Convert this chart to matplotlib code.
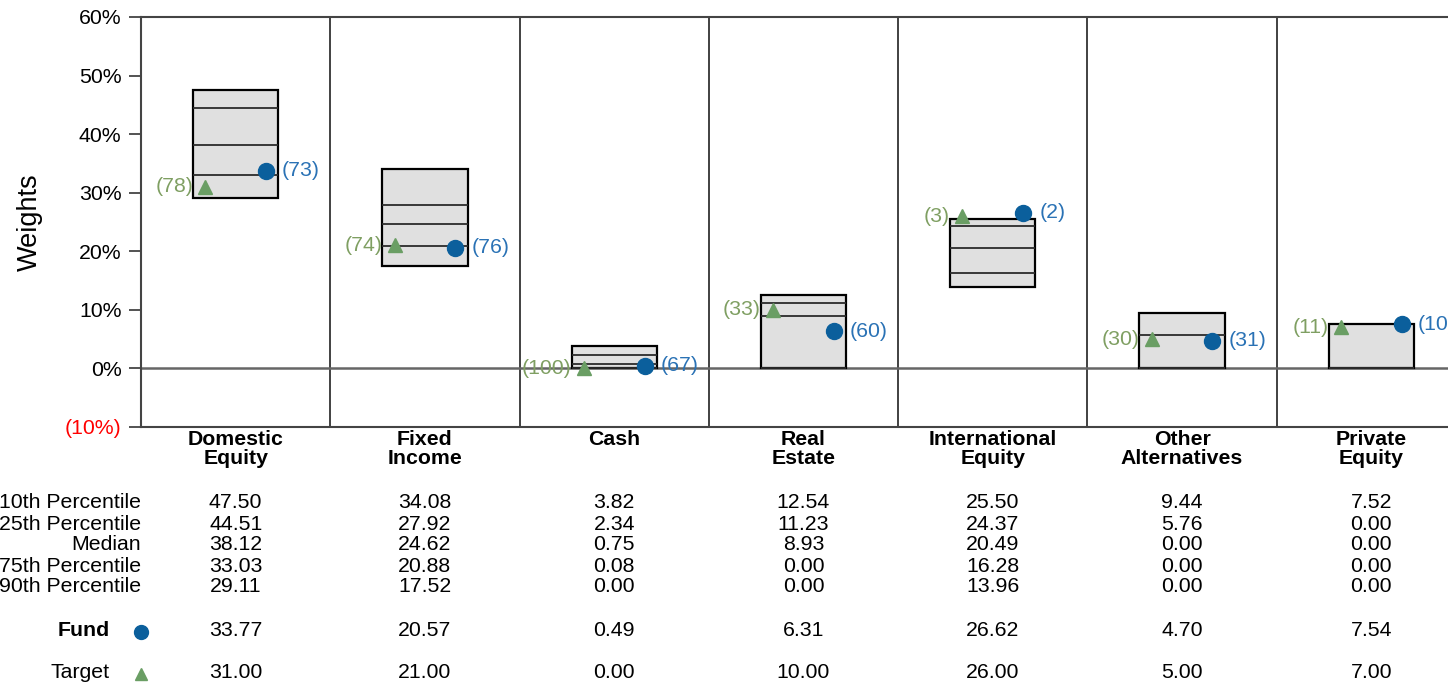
import numpy as np
import matplotlib
matplotlib.use("Agg")
import matplotlib.pyplot as plt
from matplotlib.transforms import blended_transform_factory

plt.rcParams['font.family'] = ['Liberation Sans', 'DejaVu Sans']

categories = ["Domestic\nEquity", "Fixed\nIncome", "Cash", "Real\nEstate",
              "International\nEquity", "Other\nAlternatives", "Private\nEquity"]
p10 = [47.50, 34.08, 3.82, 12.54, 25.50, 9.44, 7.52]
p25 = [44.51, 27.92, 2.34, 11.23, 24.37, 5.76, 0.00]
median = [38.12, 24.62, 0.75, 8.93, 20.49, 0.00, 0.00]
p75 = [33.03, 20.88, 0.08, 0.00, 16.28, 0.00, 0.00]
p90 = [29.11, 17.52, 0.00, 0.00, 13.96, 0.00, 0.00]
fund = [33.77, 20.57, 0.49, 6.31, 26.62, 4.70, 7.54]
target = [31.00, 21.00, 0.00, 10.00, 26.00, 5.00, 7.00]
fund_rank = [73, 76, 67, 60, 2, 31, 10]
target_rank = [78, 74, 100, 33, 3, 30, 11]
row_labels = ["10th Percentile", "25th Percentile", "Median",
              "75th Percentile", "90th Percentile"]

blue = "#0b5f9c"
blue_txt = "#2a72b5"
green = "#6a9e64"
green_txt = "#7f9f62"
FS = 15.3

W, H = 1448, 685
fig = plt.figure(figsize=(W / 100, H / 100), dpi=100)
ax = fig.add_axes([141 / W, (H - 427) / H, 1325 / W, 410 / H])

x = np.arange(len(categories))
bw = 0.45
ax.bar(x, np.array(p10) - np.array(p90), bottom=p90, width=bw,
       color="#e0e0e0", edgecolor="black", linewidth=1.6, zorder=3)
for i in x:
    for v in (p25[i], median[i], p75[i]):
        ax.hlines(v, i - bw / 2, i + bw / 2, color="#2b2b2b", lw=1.3, zorder=4)

off = 0.16
ax.plot(x + off, fund, "o", color=blue, ms=11.5, zorder=6, clip_on=False)
ax.plot(x - off, target, "^", color=green, ms=9.5, zorder=6, clip_on=False)
for i in x:
    ax.text(i + off + 0.085, fund[i], f"({fund_rank[i]})", color=blue_txt,
            fontsize=FS, ha="left", va="center", zorder=7)
    ax.text(i - off - 0.065, target[i], f"({target_rank[i]})", color=green_txt,
            fontsize=FS, ha="right", va="center", zorder=7)

ax.axhline(0, color="#666666", lw=1.8, zorder=2)
for b in np.arange(0.5, len(categories), 1.0):
    ax.axvline(b, color="#333333", lw=1.3, zorder=1)

ax.set_xlim(-0.5, len(categories) - 0.5)
ax.set_ylim(-10, 60)
ax.set_yticks(np.arange(-10, 61, 10))
ylabels = ["(10%)"] + [f"{v}%" for v in range(0, 61, 10)]
ax.set_yticklabels(ylabels, fontsize=FS)
ax.get_yticklabels()[0].set_color("red")
ax.tick_params(axis="y", length=9, width=1.3, color="#444444", pad=5)
ax.set_xticks([])
for s in ["left", "bottom", "top"]:
    ax.spines[s].set_color("#444444")
    ax.spines[s].set_linewidth(1.5)
ax.spines["right"].set_visible(False)
ax.set_ylabel("Weights", fontsize=19.5, labelpad=16)

# table below
tr = blended_transform_factory(ax.transData, fig.transFigure)
fy = lambda p: 1 - p / H
for i, c in enumerate(categories):
    ax.text(i, fy(430), c, transform=tr, ha="center", va="top",
            fontsize=FS, fontweight="bold", linespacing=1.0)

row_y = [503, 524, 545, 566, 587]
rows = [p10, p25, median, p75, p90]
for lbl, yy, vals in zip(row_labels, row_y, rows):
    fig.text(141 / W, fy(yy), lbl, ha="right", va="center", fontsize=FS)
    for i, v in enumerate(vals):
        ax.text(i, fy(yy), f"{v:.2f}", transform=tr, ha="center", va="center", fontsize=FS)

fig.text(110 / W, fy(631), "Fund", ha="right", va="center", fontsize=FS, fontweight="bold")
fig.text(110 / W, fy(673), "Target", ha="right", va="center", fontsize=FS)
fig.lines.append(plt.Line2D([141 / W], [fy(632)], marker="o", color=blue, ms=10,
                            transform=fig.transFigure))
fig.lines.append(plt.Line2D([141 / W], [fy(674)], marker="^", color=green, ms=8.5,
                            transform=fig.transFigure))
for i in x:
    ax.text(i, fy(631), f"{fund[i]:.2f}", transform=tr, ha="center", va="center", fontsize=FS)
    ax.text(i, fy(673), f"{target[i]:.2f}", transform=tr, ha="center", va="center", fontsize=FS)

fig.savefig("out.png", dpi=100)
